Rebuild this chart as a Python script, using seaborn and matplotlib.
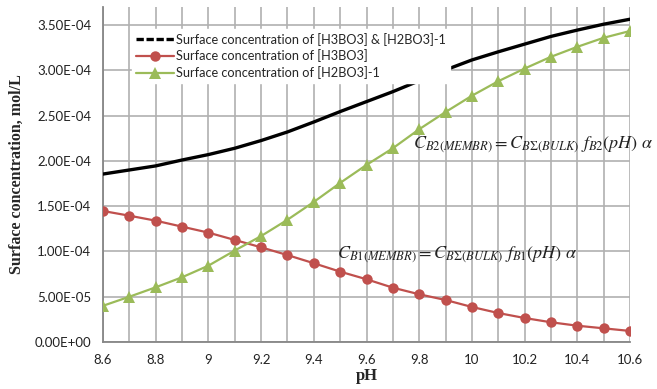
import numpy as np
import pandas as pd
import matplotlib
matplotlib.use("Agg")
import matplotlib.pyplot as plt
from matplotlib.lines import Line2D
import seaborn as sns

ph = [8.6, 8.7, 8.8, 8.9, 9.0, 9.1, 9.2, 9.3, 9.4, 9.5, 9.6, 9.7, 9.8, 9.9,
      10.0, 10.1, 10.2, 10.3, 10.4, 10.5, 10.6]
total = [1.855, 1.90, 1.945, 2.01, 2.07, 2.14, 2.225, 2.32, 2.43, 2.545, 2.655,
         2.765, 2.885, 3.005, 3.115, 3.205, 3.29, 3.375, 3.445, 3.51, 3.565]
h3bo3 = [1.447, 1.395, 1.34, 1.274, 1.208, 1.127, 1.046, 0.96, 0.87, 0.777, 0.693,
         0.60, 0.527, 0.464, 0.387, 0.32, 0.265, 0.218, 0.18, 0.151, 0.122]
h2bo3 = [0.40, 0.50, 0.604, 0.715, 0.843, 1.01, 1.17, 1.35, 1.547, 1.757, 1.956,
         2.14, 2.35, 2.54, 2.72, 2.88, 3.02, 3.15, 3.26, 3.36, 3.435]
labels = ["Surface concentration of [H3BO3] & [H2BO3]-1",
          "Surface concentration of [H3BO3]",
          "Surface concentration of [H2BO3]-1"]
xticks = [8.6, 8.8, 9.0, 9.2, 9.4, 9.6, 9.8, 10.0, 10.2, 10.4, 10.6]
xtick_labels = ["8.6", "8.8", "9", "9.2", "9.4", "9.6", "9.8", "10", "10.2", "10.4", "10.6"]

scale = 1e-4
df = pd.DataFrame({"pH": ph,
                   "total": np.array(total) * scale,
                   "h3bo3": np.array(h3bo3) * scale,
                   "h2bo3": np.array(h2bo3) * scale})

sns.set_style("white")
plt.rcParams["mathtext.fontset"] = "stix"

fig = plt.figure(figsize=(6.57, 3.89), dpi=100)
ax = fig.add_axes([103/657, 47/389, 527/657, 335/389])

black = "#000000"
red = "#C0504D"
green = "#9BBB59"

sns.lineplot(data=df, x="pH", y="total", ax=ax, color=black, linewidth=2.4, zorder=3)
sns.lineplot(data=df, x="pH", y="h3bo3", ax=ax, color=red, linewidth=1.6,
             marker="o", markersize=7.5, markeredgewidth=0, zorder=4)
sns.lineplot(data=df, x="pH", y="h2bo3", ax=ax, color=green, linewidth=1.6,
             marker="^", markersize=8, markeredgewidth=0, zorder=4)

ax.set_xlim(8.6, 10.6)
ax.set_ylim(0, 3.7e-4)
ax.set_xticks(xticks)
ax.set_xticklabels(xtick_labels)
ax.set_xticks(np.round(np.arange(8.6, 10.61, 0.1), 2), minor=True)
yt = np.arange(0, 3.51e-4, 5e-5)
ax.set_yticks(yt)
ax.set_yticklabels([f"{v:.2E}" for v in yt])

gridc = "#b0b0b0"
ax.grid(True, which="both", axis="x", color=gridc, linewidth=1.2, zorder=0)
ax.grid(True, which="major", axis="y", color=gridc, linewidth=1.2, zorder=0)
ax.set_axisbelow(True)

for s in ["top", "right"]:
    ax.spines[s].set_visible(False)
for s in ["left", "bottom"]:
    ax.spines[s].set_color("#868686")
    ax.spines[s].set_linewidth(1.3)
ax.tick_params(axis="both", which="both", direction="out", length=5, color="#868686",
               width=1.2, labelsize=9.5, labelcolor="#222222")
ax.tick_params(axis="x", which="major", pad=4)
for lab in ax.get_xticklabels() + ax.get_yticklabels():
    lab.set_family("Lato")

ax.set_xlabel("pH", fontfamily="Liberation Serif", fontweight="bold", fontsize=12, labelpad=1)
ax.set_ylabel("Surface concentration, mol/L", fontfamily="Liberation Serif",
              fontweight="bold", fontsize=11.5, labelpad=7)

handles = [Line2D([0], [0], color=black, linewidth=2.4, linestyle=(0, (2.2, 0.8))),
           Line2D([0], [0], color=red, linewidth=1.6, marker="o", markersize=7.5, markeredgewidth=0),
           Line2D([0], [0], color=green, linewidth=1.6, marker="^", markersize=8, markeredgewidth=0)]
leg = ax.legend(handles, labels, loc="upper left", bbox_to_anchor=(0.055, 0.935),
                frameon=True, fancybox=False, framealpha=1, edgecolor="white",
                prop={"family": "Lato", "size": 9.2}, handlelength=3.0,
                handletextpad=0.15, labelspacing=0.3, borderpad=0.3, borderaxespad=0)
leg.set_zorder(6)

ax.text(9.776, 2.18e-4, r"$C_{B2(MEMBR)} = C_{B\Sigma(BULK)}\ f_{B2}\left(pH\right)\ \alpha$",
        fontsize=13, color="#222222", va="center", ha="left", zorder=5)
ax.text(9.488, 0.96e-4, r"$C_{B1(MEMBR)} = C_{B\Sigma(BULK)}\ f_{B1}\left(pH\right)\ \alpha$",
        fontsize=13, color="#222222", va="center", ha="left", zorder=5)

fig.savefig("out.png", dpi=100)
